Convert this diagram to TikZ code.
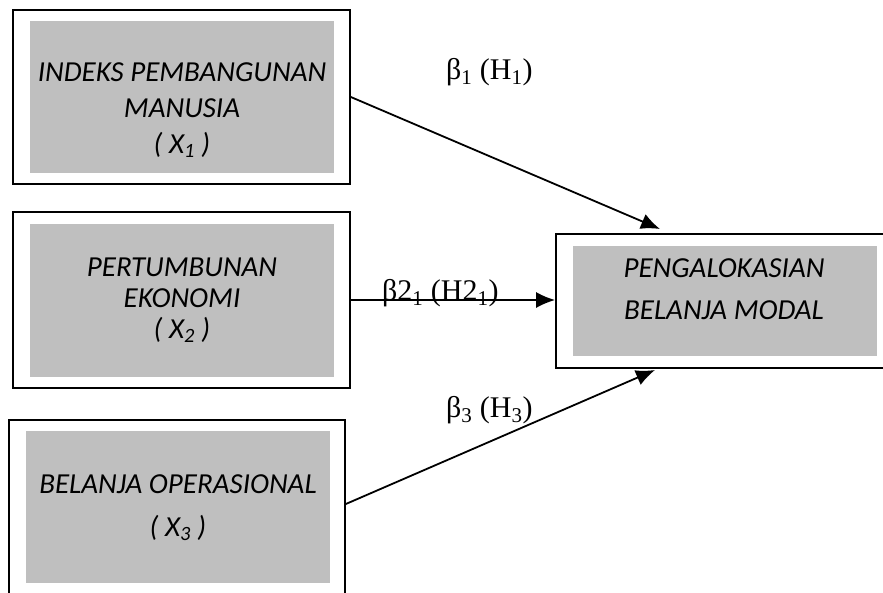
\documentclass[tikz,border=0pt]{standalone}
\usepackage{fontspec}
\setmainfont{Liberation Serif}
\newfontfamily\calib{Carlito}
\usetikzlibrary{arrows.meta,calc}
\definecolor{boxgray}{RGB}{191,191,191}

\begin{document}
\begin{tikzpicture}[x=1pt,y=1pt,>={Latex[length=19pt,width=16pt]},
    outer box/.style={rectangle,draw,line width=1.7pt,inner sep=0pt},
    fill box/.style={rectangle,fill=boxgray,inner sep=0pt,minimum width=304pt},
    box text/.style={align=center,inner sep=0pt,font=\calib\itshape\fontsize{29}{#1}\selectfont},
    coef/.style={anchor=base west,inner sep=0pt,font=\fontsize{30}{34}\selectfont},
    arrow/.style={->,line width=1.8pt}]

  \useasboundingbox (0,0) rectangle (883,-592);

  % independent variables
  \node[outer box,minimum width=337pt,minimum height=174pt] (ipm) at (181.5,-97) {};
  \node[fill box,minimum height=152pt] (ipmfill) at (182,-97) {};
  \node[box text=36pt] (ipmtext) at (182,-110) {INDEKS PEMBANGUNAN\\MANUSIA\\( X\textsubscript{1} )};

  \node[outer box,minimum width=337pt,minimum height=176pt] (ekon) at (181.5,-300) {};
  \node[fill box,minimum height=153pt] (ekonfill) at (182,-300.5) {};
  \node[box text=31pt] (ekontext) at (182,-300) {PERTUMBUNAN\\EKONOMI\\( X\textsubscript{2} )};

  \node[outer box,minimum width=336pt,minimum height=180pt] (bel) at (177,-510) {};
  \node[fill box,minimum height=152pt] (belfill) at (178,-507) {};
  \node[box text=43pt] (beltext) at (178,-507.5) {BELANJA OPERASIONAL\\( X\textsubscript{3} )};

  % dependent variable
  \node[outer box,minimum width=334pt,minimum height=134pt] (peng) at (723,-301) {};
  \node[fill box,minimum height=110pt] (pengfill) at (725,-301) {};
  \node[box text=42pt] (pengtext) at (724,-289) {PENGALOKASIAN\\BELANJA MODAL};

  \node[coef] (b1) at (446,-79) {β\textsubscript{1} (H\textsubscript{1})};
  \node[coef] (b2) at (382,-300) {β2\textsubscript{1} (H2\textsubscript{1})};
  \node[coef] (b3) at (446,-417) {β\textsubscript{3} (H\textsubscript{3})};

  \coordinate (a1end) at (660,-229);
  \coordinate (a3start) at ([yshift=6pt]bel.east);
  \coordinate (a3end) at (655,-370);

  \draw[arrow] (ipm.east) -- (a1end);
  \draw[arrow] (ekon.east) -- (ekon.east -| peng.west);
  \draw[arrow] (a3start) -- (a3end);
\end{tikzpicture}
\end{document}
